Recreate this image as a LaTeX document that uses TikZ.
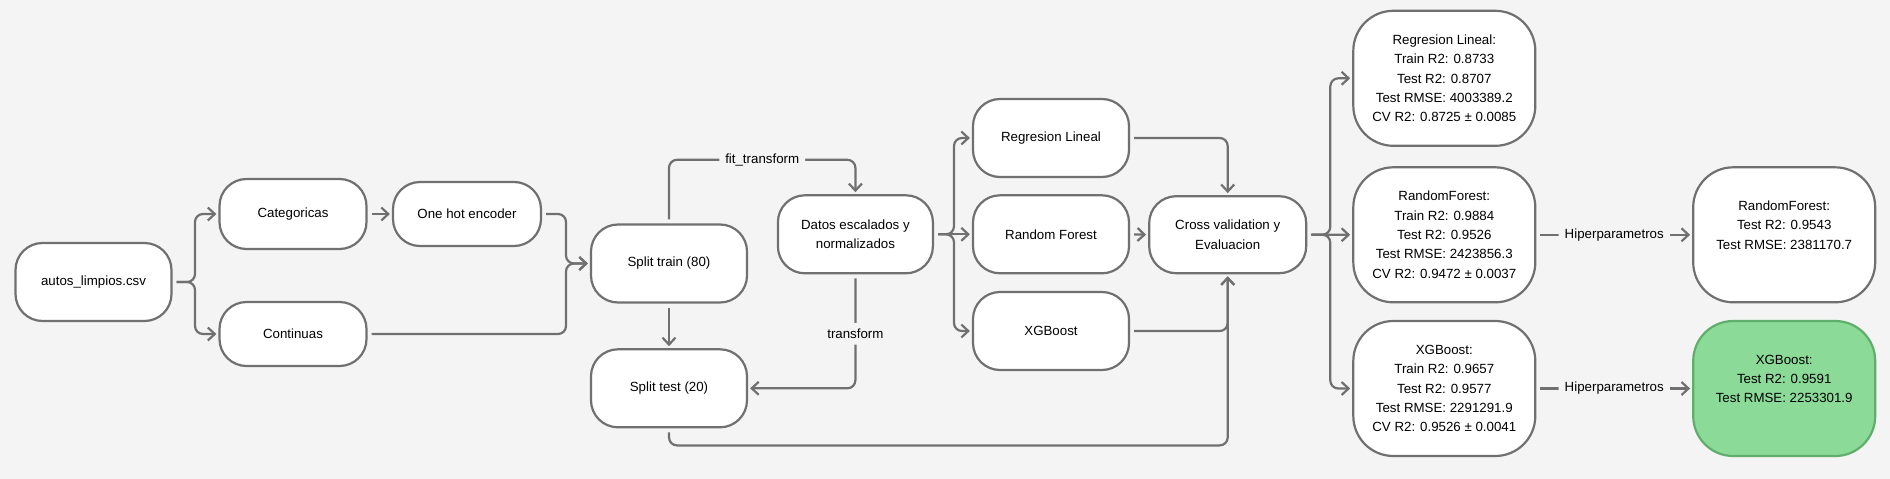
\documentclass[tikz,border=0pt]{standalone}
\usepackage{fontspec}
\setmainfont{Liberation Sans}
\usetikzlibrary{arrows.meta,calc}
\definecolor{bg}{HTML}{F4F4F4}
\definecolor{ln}{HTML}{707070}
\definecolor{gfill}{HTML}{8BDA98}
\definecolor{gdraw}{HTML}{5FAE6C}
\begin{document}
\begin{tikzpicture}[x=1pt,y=-1pt,
  box/.style={draw=ln, line width=2.2pt, fill=white, rounded corners=27pt,
    minimum width=156pt, minimum height=78pt, inner sep=0pt, align=center,
    font=\fontsize{13.3}{19.4}\selectfont},
  res/.style={box, minimum width=182pt, minimum height=135pt, rounded corners=40pt},
  conn/.style={draw=ln, line width=2.2pt, rounded corners=8pt,
    -{Straight Barb[length=7pt,width=13pt]}, shorten >=2pt, shorten <=4pt},
  lab/.style={fill=bg, inner sep=6pt, text=black, font=\fontsize{13.3}{16}\selectfont}]
\fill[bg] (0,0) rectangle (1890,479);
\useasboundingbox (0,0) rectangle (1890,479);

% nodes
\node[box] (autos) at (93.5,282) {autos\_limpios.csv};
\node[box, minimum width=147pt, minimum height=70pt] (cat) at (293,214) {Categoricas};
\node[box, minimum width=148pt, minimum height=64pt] (onehot) at (467,214) {One hot encoder};
\node[box, minimum width=147pt, minimum height=64pt] (cont) at (293,334) {Continuas};
\node[box] (train) at (669,263.5) {Split train (80)};
\node[box] (test) at (669,388.3) {Split test (20)};
\node[box, minimum width=155pt] (datos) at (855.4,234.3) {Datos escalados y\\normalizados};
\node[box] (rl) at (1051,138) {Regresion Lineal};
\node[box] (rf) at (1051,234.3) {Random Forest};
\node[box] (xgb) at (1051,331) {XGBoost};
\node[box, minimum width=157pt, minimum height=77pt] (cv) at (1227.7,234.7) {Cross validation y\\Evaluacion};
\node[res] (rrl) at (1444.3,78.3) {Regresion Lineal:\\Train R2: 0.8733\\Test R2: 0.8707\\Test RMSE: 4003389.2\\CV R2: 0.8725 ± 0.0085};
\node[res] (rrf) at (1444.3,234.8) {RandomForest:\\Train R2: 0.9884\\Test R2: 0.9526\\Test RMSE: 2423856.3\\CV R2: 0.9472 ± 0.0037};
\node[res] (rxgb) at (1444.3,388.5) {XGBoost:\\Train R2: 0.9657\\Test R2: 0.9577\\Test RMSE: 2291291.9\\CV R2: 0.9526 ± 0.0041};
\node[res] (trf) at (1784.2,234.8) {RandomForest:\\Test R2: 0.9543\\Test RMSE: 2381170.7\\ \mbox{}};
\node[res, fill=gfill, draw=gdraw] (txgb) at (1784.2,388.5) {XGBoost:\\Test R2: 0.9591\\Test RMSE: 2253301.9\\ \mbox{}};

% junctions
\coordinate (jA) at (195,282);
\coordinate (jB) at (566,263.5);

% connectors
\draw[conn] (autos.east) -- (jA) |- (cat.west);
\draw[conn] (autos.east) -- (jA) |- (cont.west);
\draw[conn] (cat.east) -- (onehot.west);
\draw[conn] (onehot.east) -| (jB) -- (train.west);
\draw[conn] (cont.east) -| (jB) -- (train.west);
\draw[conn] (train.north) -- ++(0,-63.6) -| node[lab, pos=0.25] (lfit) {fit\_transform} (datos.north);
\draw[conn] (train.south) -- (test.north);
\draw[conn] (datos.south) |- node[lab, pos=0.26] (ltr) {transform} (test.east);
\draw[conn] (test.south) -- ++(0,17) -| (cv.south);
\draw[conn] (datos.east) -- ++(20,0) |- (rl.west);
\draw[conn] (datos.east) -- (rf.west);
\draw[conn] (datos.east) -- ++(20,0) |- (xgb.west);
\draw[conn] (rl.east) -| (cv.north);
\draw[conn] (rf.east) -- (cv.west);
\draw[conn] (xgb.east) -| (cv.south);
\draw[conn] (cv.east) -- ++(23,0) |- (rrl.west);
\draw[conn] (cv.east) -- (rrf.west);
\draw[conn] (cv.east) -- ++(23,0) |- (rxgb.west);
\draw[conn] (rrf.east) -- node[lab] (lh1) {Hiperparametros} (trf.west);
\draw[conn] (rxgb.east) -- node[lab] (lh2) {Hiperparametros} (txgb.west);
\end{tikzpicture}
\end{document}
